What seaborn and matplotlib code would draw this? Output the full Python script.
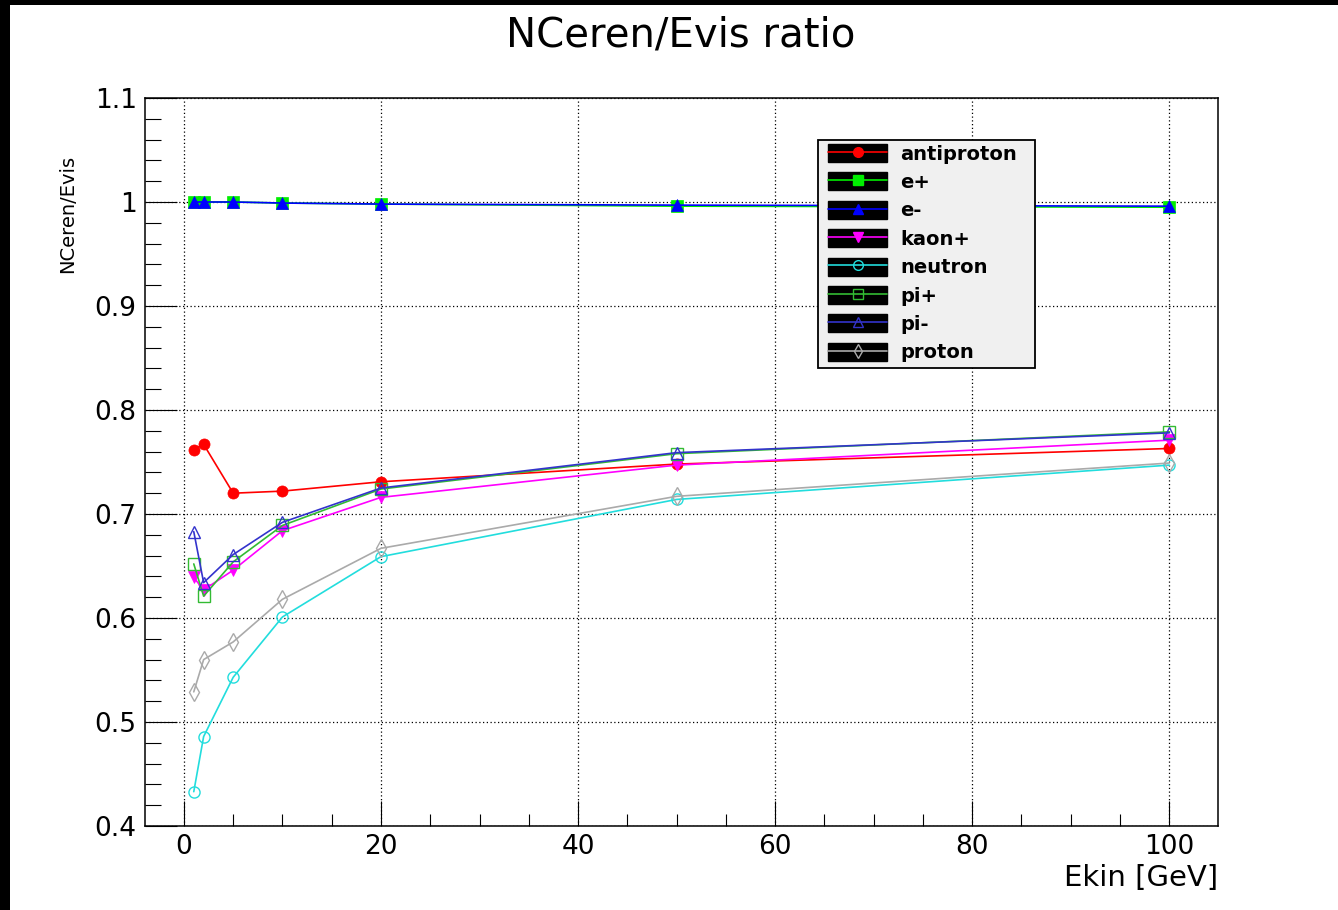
import matplotlib
matplotlib.use("Agg")
import matplotlib.pyplot as plt
import matplotlib.patches as mpatches
from matplotlib.lines import Line2D
from matplotlib.legend_handler import HandlerTuple
from matplotlib.ticker import MultipleLocator
import pandas as pd
import seaborn as sns

energies = [1, 2, 5, 10, 20, 50, 100]

antiproton = [0.762, 0.767, 0.720, 0.722, 0.731, 0.748, 0.763]
e_plus = [1.000, 1.000, 1.000, 0.999, 0.998, 0.996, 0.995]
e_minus = [1.000, 1.000, 1.000, 0.999, 0.998, 0.997, 0.996]
kaon_plus = [0.639, 0.627, 0.646, 0.684, 0.716, 0.747, 0.771]
neutron = [0.433, 0.486, 0.543, 0.601, 0.659, 0.714, 0.747]
pi_plus = [0.652, 0.621, 0.654, 0.689, 0.724, 0.758, 0.779]
pi_minus = [0.683, 0.634, 0.661, 0.692, 0.725, 0.759, 0.778]
proton = [0.529, 0.560, 0.577, 0.618, 0.667, 0.717, 0.749]

particles = ["antiproton", "e+", "e-", "kaon+", "neutron", "pi+", "pi-", "proton"]
series = [antiproton, e_plus, e_minus, kaon_plus, neutron, pi_plus, pi_minus, proton]

# ROOT-ish colours / markers
colors = ["#ff0000", "#00ee00", "#0000ff", "#ff00ff", "#22dddd", "#33bb33", "#3333cc", "#aaaaaa"]
markers = ["o", "s", "^", "v", "o", "s", "^", "d"]
filled = [True, True, True, True, False, False, False, False]


def main():
    sns.set_theme(style="white")
    plt.rcParams["font.family"] = ["DejaVu Sans"]
    plt.rcParams["text.color"] = "black"
    plt.rcParams["axes.labelcolor"] = "black"

    fig = plt.figure(figsize=(13.38, 9.1), dpi=100)
    fig.patch.set_facecolor("white")
    ax = fig.add_axes([145 / 1338, 84 / 910, 1073 / 1338, 728 / 910])

    handles = []
    for name, vals, col, mk, fl in zip(particles, series, colors, markers, filled):
        df = pd.DataFrame({"Ekin": energies, "ratio": vals})
        sns.lineplot(data=df, x="Ekin", y="ratio", ax=ax, color=col, lw=1.2,
                     marker=mk, markersize=8 if mk != "d" else 9,
                     markerfacecolor=col if fl else "none",
                     markeredgecolor=col, markeredgewidth=1.0 if not fl else 0.5)
        box = mpatches.Rectangle((0, 0), 1, 1, facecolor="black", edgecolor="black")
        ln = Line2D([], [], color=col, lw=1.2, marker=mk, markersize=7,
                    markerfacecolor=col if fl else "none", markeredgecolor=col)
        handles.append((box, ln))

    ax.set_xlim(-3.95, 104.95)
    ax.set_ylim(0.4, 1.1)
    ax.xaxis.set_major_locator(MultipleLocator(20))
    ax.xaxis.set_minor_locator(MultipleLocator(5))
    ax.yaxis.set_major_locator(MultipleLocator(0.1))
    ax.yaxis.set_minor_locator(MultipleLocator(0.02))
    ax.set_yticks(ax.get_yticks())
    ax.set_yticklabels([f"{v:g}" for v in ax.get_yticks()])
    ax.set_ylim(0.4, 1.1)
    ax.grid(True, which="major", color="black", linestyle=(0, (1, 2)), lw=0.9)
    ax.tick_params(axis="both", which="both", direction="in", colors="black",
                   labelsize=19, width=0.8)
    ax.tick_params(axis="y", which="major", length=23, pad=6)
    ax.tick_params(axis="y", which="minor", length=11.5)
    ax.tick_params(axis="x", which="major", length=18, pad=6)
    ax.tick_params(axis="x", which="minor", length=8.6)
    ax.tick_params(bottom=True, left=True, top=False, right=False, which="both")
    for sp in ax.spines.values():
        sp.set_color("black")
        sp.set_linewidth(1.1)
    ax.set_xlabel("")
    ax.set_ylabel("")

    fig.text(0.509, 1 - 36 / 910, "NCeren/Evis ratio", ha="center", va="center", fontsize=29)
    fig.text(68 / 1338, 1 - 155 / 910, "NCeren/Evis", rotation=90, ha="center", va="top", fontsize=14)
    fig.text(1218 / 1338, 1 - 878 / 910, "Ekin [GeV]", ha="right", va="center", fontsize=21)

    # legend box drawn separately so its size matches
    fig.add_artist(mpatches.Rectangle((818 / 1338, 1 - 368 / 910), 217 / 1338, 228 / 910,
                                      transform=fig.transFigure, facecolor="#f0f0f0",
                                      edgecolor="black", lw=1.3, zorder=3))
    leg = fig.legend(handles, particles, handler_map={tuple: HandlerTuple(ndivide=1, pad=0)},
                     loc="upper left", bbox_to_anchor=(828 / 1338, 1 - 144 / 910),
                     frameon=False, prop={"weight": "bold", "size": 14},
                     handlelength=3.05, handleheight=1.05, handletextpad=0.65,
                     labelspacing=0.45, borderpad=0, borderaxespad=0)
    leg.set_zorder(5)

    # black strips at top and left edge of the picture
    fig.add_artist(mpatches.Rectangle((0, 1 - 5 / 910), 1, 5 / 910, transform=fig.transFigure,
                                      facecolor="black", edgecolor="none"))
    fig.add_artist(mpatches.Rectangle((0, 0), 10 / 1338, 1, transform=fig.transFigure,
                                      facecolor="black", edgecolor="none"))

    fig.savefig("out.png", dpi=100)
    plt.close(fig)


if __name__ == "__main__":
    main()
